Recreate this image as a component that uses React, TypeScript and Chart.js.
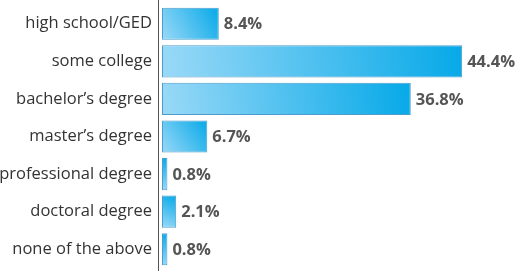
import React, { useEffect, useRef } from "react";
import { Chart, registerables } from "chart.js";

Chart.register(...registerables);

const categories = [
  "high school/GED",
  "some college",
  "bachelor\u2019s degree",
  "master\u2019s degree",
  "professional degree",
  "doctoral degree",
  "none of the above",
];
const values = [8.4, 44.4, 36.8, 6.7, 0.8, 2.1, 0.8];
const valueLabels = ["8.4%", "44.4%", "36.8%", "6.7%", "0.8%", "2.1%", "0.8%"];

const valueLabelPlugin = {
  id: "valueLabels",
  afterDatasetsDraw(chart: any) {
    const ctx = chart.ctx;
    const meta = chart.getDatasetMeta(0);
    ctx.save();
    ctx.font = "bold 16.5px 'Open Sans'";
    ctx.fillStyle = "#555555";
    ctx.textAlign = "left";
    ctx.textBaseline = "middle";
    meta.data.forEach((bar: any, i: number) => {
      ctx.fillText(valueLabels[i], bar.x + 5, bar.y + 1);
    });
    ctx.restore();
  },
};

const axisLinePlugin = {
  id: "axisLine",
  afterDraw(chart: any) {
    const ctx = chart.ctx;
    const x = Math.round(chart.scales.x.getPixelForValue(0)) - 3.5;
    ctx.save();
    ctx.strokeStyle = "#555555";
    ctx.lineWidth = 1;
    ctx.beginPath();
    ctx.moveTo(x, 0);
    ctx.lineTo(x, chart.height);
    ctx.stroke();
    ctx.restore();
  },
};

export default function App() {
  const ref = useRef<HTMLCanvasElement>(null);
  useEffect(() => {
    if (!ref.current) return;
    const chart = new Chart(ref.current, {
      type: "bar",
      data: {
        labels: categories,
        datasets: [
          {
            data: values,
            backgroundColor: (c: any) => {
              const ch = c.chart;
              if (c.type !== "data" || !ch.chartArea) return "#4fc0ee";
              const xs = ch.scales.x;
              const ys = ch.scales.y;
              const x0 = xs.getPixelForValue(0);
              const x1 = xs.getPixelForValue(values[c.dataIndex]);
              const yc = ys.getPixelForValue(c.dataIndex);
              const g = ch.ctx.createLinearGradient(x0, yc + 16, x1, yc - 16);
              g.addColorStop(0, "#9ad9f7");
              g.addColorStop(1, "#06a9e8");
              return g;
            },
            borderColor: "#4d9ccc",
            borderWidth: 1,
            borderSkipped: false,
            categoryPercentage: 1,
            barPercentage: 0.855,
          },
        ],
      },
      options: {
        indexAxis: "y",
        animation: false,
        responsive: true,
        maintainAspectRatio: false,
        layout: { padding: { top: 5, bottom: 3, right: 17, left: 0 } },
        plugins: { legend: { display: false }, tooltip: { enabled: false } },
        scales: {
          x: {
            display: false,
            min: 0,
            max: 50,
          },
          y: {
            grid: { display: false, drawTicks: false },
            border: { display: false },
            afterFit: (s: any) => {
              s.width = 162;
              s.paddingTop = 0;
              s.paddingBottom = 0;
            },
            ticks: {
              padding: 10,
              color: "#333333",
              font: { family: "'Open Sans'", size: 16.5 },
            },
          },
        },
      },
      plugins: [valueLabelPlugin, axisLinePlugin],
    });
    return () => chart.destroy();
  }, []);
  return (
    <div style={{ position: "fixed", left: 0, top: 0, width: 517, height: 271, background: "#fff" }}>
      <canvas ref={ref} />
    </div>
  );
}
